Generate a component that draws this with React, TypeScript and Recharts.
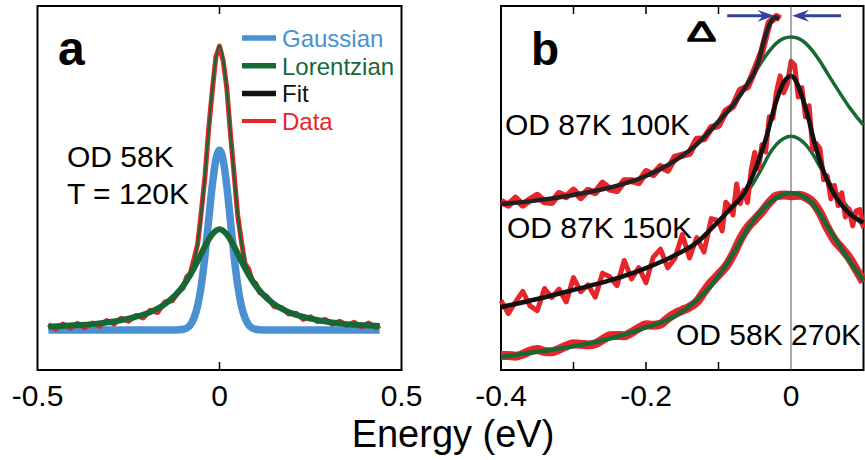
import React from 'react';
import { LineChart, Line, XAxis, YAxis, ReferenceLine, ReferenceArea } from 'recharts';

const FONT = '"Liberation Sans", Arial, Helvetica, sans-serif';
const BLUE = '#4a90d2';
const GREEN = '#166834';
const RED = '#e8252a';
const BLACK = '#111';
const NAVY = '#33439c';

// ---- panel a : OD 58K, T = 120K ----
const aTicks = [-0.5, 0, 0.5];

const aGaussX = [-0.47, -0.2, -0.13, -0.11, -0.1, -0.09, -0.08, -0.07, -0.06, -0.05, -0.04, -0.03, -0.02, -0.01, 0, 0.01, 0.02, 0.03, 0.04, 0.05, 0.06, 0.07, 0.08, 0.09, 0.1, 0.11, 0.13, 0.2, 0.44];
const aGaussY = [11, 11, 11, 11.05, 11.2, 11.5, 12.4, 14.3, 17.7, 23.3, 31.3, 41, 50.6, 57.7, 60.4, 57.7, 50.6, 41, 31.3, 23.3, 17.7, 14.3, 12.4, 11.5, 11.2, 11.05, 11, 11, 11];

const aLorX = [-0.47, -0.4, -0.35, -0.3, -0.25, -0.2, -0.15, -0.12, -0.1, -0.08, -0.06, -0.04, -0.02, 0, 0.02, 0.04, 0.06, 0.08, 0.1, 0.12, 0.15, 0.2, 0.25, 0.3, 0.35, 0.4, 0.44];
const aLorY = [11.9, 12.3, 12.6, 13.2, 14.1, 15.5, 18.1, 20.7, 23.1, 26.2, 29.9, 34.0, 37.3, 38.7, 37.3, 34.0, 29.9, 26.2, 23.1, 20.7, 18.1, 15.5, 14.1, 13.2, 12.6, 12.3, 12.1];

const aFitX = [-0.47, -0.4, -0.35, -0.3, -0.25, -0.2, -0.15, -0.12, -0.1, -0.09, -0.08, -0.07, -0.06, -0.05, -0.04, -0.03, -0.02, -0.01, 0, 0.01, 0.02, 0.03, 0.04, 0.05, 0.06, 0.07, 0.08, 0.09, 0.1, 0.12, 0.15, 0.2, 0.25, 0.3, 0.35, 0.4, 0.44];
const aFitY = [11.9, 12.3, 12.6, 13.2, 14.1, 15.5, 18.1, 20.8, 23.3, 25, 27, 29.8, 35, 43, 53.5, 65.5, 77, 85.5, 89, 85.5, 77, 65.5, 53.5, 43, 35, 29.8, 27, 25, 23.3, 20.8, 18.1, 15.5, 14.1, 13.2, 12.6, 12.3, 12.1];

const aDataX = [-0.47, -0.45, -0.43, -0.41, -0.39, -0.37, -0.35, -0.33, -0.31, -0.29, -0.27, -0.25, -0.23, -0.21, -0.19, -0.17, -0.15, -0.13, -0.11, -0.1, -0.09, -0.08, -0.07, -0.06, -0.05, -0.04, -0.03, -0.02, -0.01, 0, 0.01, 0.02, 0.03, 0.04, 0.05, 0.06, 0.07, 0.08, 0.09, 0.1, 0.11, 0.13, 0.15, 0.17, 0.19, 0.21, 0.23, 0.25, 0.27, 0.29, 0.31, 0.33, 0.35, 0.37, 0.39, 0.41, 0.43, 0.44];
const aDataY = [12.5, 11.2, 12.6, 11.5, 12.8, 11.6, 12.9, 12.0, 13.6, 12.6, 14.2, 13.4, 15.0, 14.3, 16.4, 15.8, 18.7, 19.0, 21.8, 22.5, 25.6, 26.6, 30.5, 34.6, 43.5, 53, 66, 76.5, 86, 89, 85, 77.5, 65, 54, 42.5, 35.5, 29.2, 27.8, 24.4, 23.8, 21.3, 20.2, 17.4, 17.2, 15.4, 15.6, 13.9, 14.6, 13.3, 13.9, 12.6, 13.4, 12.2, 13.1, 11.8, 12.9, 11.6, 12.3];

const legendLabels = ['Gaussian', 'Lorentzian', 'Fit', 'Data'];
const legendColors = [BLUE, GREEN, BLACK, RED];

// ---- panel b ----
const bTicks = [-0.4, -0.2, 0];
const bMinorTicks = [-0.3, -0.2, -0.1];

// OD 87K 100K
const b1FitX = [-0.4, -0.35, -0.3, -0.25, -0.2, -0.16, -0.13, -0.1, -0.08, -0.06, -0.05, -0.044, -0.038, -0.032, -0.026, -0.021, -0.017];
const b1FitY = [45.6, 46.6, 48.1, 50.1, 53.3, 57.5, 62.0, 68.3, 72.8, 78.6, 82.0, 85.2, 90.0, 93.8, 96.2, 96.9, 96.3];
const b1GreenX = [-0.07, -0.06, -0.05, -0.04, -0.03, -0.02, -0.01, 0, 0.01, 0.02, 0.03, 0.04, 0.05, 0.06, 0.07, 0.08, 0.09, 0.1];
const b1GreenY = [75.3, 78.4, 81.6, 84.8, 87.6, 89.8, 91.1, 91.5, 91.1, 89.8, 87.6, 84.8, 81.6, 78.4, 75.3, 72.3, 69.7, 67.3];
const b1DataX = [-0.4, -0.39, -0.38, -0.37, -0.36, -0.35, -0.34, -0.33, -0.32, -0.31, -0.3, -0.29, -0.28, -0.27, -0.26, -0.25, -0.24, -0.23, -0.22, -0.21, -0.2, -0.19, -0.18, -0.17, -0.16, -0.15, -0.14, -0.13, -0.12, -0.11, -0.1, -0.09, -0.08, -0.07, -0.06, -0.05, -0.04, -0.03, -0.02, -0.015];
const b1DataY = [46.3, 45.3, 47.2, 45.3, 46.8, 48.0, 46.2, 46.0, 48.5, 47.6, 49.4, 47.4, 49.4, 48.7, 51.3, 49.7, 49.3, 52.0, 52.0, 51.5, 54.5, 53.7, 55.9, 54.9, 58.5, 59.0, 59.5, 63.4, 63.5, 66.6, 67.2, 71.1, 72.5, 76.9, 77.8, 82.5, 87.6, 95.5, 97.1, 96.5];

// OD 87K 150K
const b2FitX = [-0.4, -0.35, -0.3, -0.25, -0.2, -0.16, -0.13, -0.11, -0.085, -0.062, -0.048, -0.034, -0.021, -0.01, -0.004, 0, 0.004, 0.01, 0.021, 0.034, 0.048, 0.062, 0.08, 0.1];
const b2FitY = [17.3, 19.5, 22.0, 24.6, 28.0, 31.5, 35.0, 38.8, 44.0, 49.5, 55.8, 64.0, 73.4, 79.0, 80.5, 80.8, 80.3, 78.0, 71.4, 61.3, 53.0, 47.5, 43.1, 40.5];
const b2GreenX = [-0.06, -0.05, -0.04, -0.03, -0.02, -0.01, 0, 0.01, 0.02, 0.03, 0.04, 0.05, 0.06, 0.07, 0.08, 0.09, 0.1];
const b2GreenY = [49.0, 52.0, 55.5, 59.3, 62.0, 63.6, 64.2, 63.6, 62.0, 59.3, 55.8, 52.5, 49.5, 46.8, 44.3, 41.8, 39.5];
const b2DataX = [-0.4, -0.39, -0.38, -0.37, -0.36, -0.35, -0.34, -0.33, -0.32, -0.31, -0.3, -0.29, -0.28, -0.27, -0.26, -0.25, -0.24, -0.23, -0.22, -0.21, -0.2, -0.19, -0.18, -0.17, -0.16, -0.15, -0.14, -0.13, -0.12, -0.11, -0.1, -0.095, -0.09, -0.085, -0.08, -0.075, -0.07, -0.065, -0.06, -0.055, -0.05, -0.045, -0.04, -0.035, -0.03, -0.025, -0.02, -0.015, -0.01, -0.005, 0, 0.005, 0.01, 0.015, 0.02, 0.025, 0.03, 0.035, 0.04, 0.045, 0.05, 0.055, 0.06, 0.065, 0.07, 0.075, 0.08, 0.085, 0.09, 0.095, 0.1];
const b2DataY = [19.1, 15.5, 18.7, 21.6, 17.6, 16.3, 22.4, 19.9, 22.2, 18.7, 25.4, 21.5, 23.4, 20.0, 26.6, 25.6, 23.2, 30.1, 25.0, 28.1, 24.0, 31.0, 33.2, 28.1, 30.7, 37.2, 30.8, 36.4, 32.4, 41.6, 41.0, 38.2, 46.1, 45.0, 42.6, 51.1, 45.7, 49.4, 46.0, 54.9, 59.8, 55.2, 61.9, 59.9, 69.6, 69.1, 76.4, 80.8, 76.2, 78.6, 84.8, 83.8, 75.0, 77.6, 69.5, 72.6, 60.5, 62.2, 60.8, 52.3, 53.3, 47.0, 50.7, 45.2, 48.7, 42.0, 44.3, 39.6, 43.7, 44.1, 38.9];

// OD 58K 270K
const b3FitX = [-0.4, -0.35, -0.3, -0.25, -0.2, -0.16, -0.13, -0.11, -0.085, -0.058, -0.03, -0.015, 0, 0.015, 0.029, 0.056, 0.08, 0.1];
const b3FitY = [3.6, 5.0, 6.5, 8.6, 11.7, 14.8, 19.2, 23.3, 30.2, 39.3, 45.9, 47.9, 48.6, 47.9, 45.9, 37.6, 30.2, 24.5];
const b3DataX = [-0.4, -0.39, -0.38, -0.37, -0.36, -0.35, -0.34, -0.33, -0.32, -0.31, -0.3, -0.29, -0.28, -0.27, -0.26, -0.25, -0.24, -0.23, -0.22, -0.21, -0.2, -0.19, -0.18, -0.17, -0.16, -0.15, -0.14, -0.13, -0.12, -0.11, -0.1, -0.09, -0.08, -0.07, -0.06, -0.05, -0.04, -0.03, -0.02, -0.01, 0, 0.01, 0.02, 0.03, 0.04, 0.05, 0.06, 0.07, 0.08, 0.09, 0.1];
const b3DataY = [4.0, 4.0, 3.8, 4.3, 5.2, 5.6, 5.1, 5.0, 5.7, 6.6, 7.2, 7.1, 6.9, 7.2, 8.3, 9.4, 9.5, 9.4, 10.3, 11.5, 12.4, 12.3, 12.6, 14.2, 15.5, 16.4, 17.3, 18.7, 21.5, 24.1, 26.2, 28.4, 31.7, 35.9, 39.1, 41.3, 43.5, 46.0, 47.8, 48.1, 47.9, 48.0, 47.5, 46.1, 43.2, 39.1, 35.7, 33.4, 30.9, 27.6, 24.2];

const pts = (xs: number[], ys: number[]) => xs.map((x, i) => ({ x, y: ys[i] }));

const Arrow = (p: any) => {
  const { x1, y1, x2, y2 } = p;
  const d = Math.sign(x2 - x1);
  return (
    <g>
      <line x1={x1} y1={y1} x2={x2 - d * 10} y2={y2} stroke={NAVY} strokeWidth={3} />
      <polygon
        points={`${x2},${y2} ${x2 - d * 17},${y2 - 6} ${x2 - d * 11},${y2} ${x2 - d * 17},${y2 + 6}`}
        fill={NAVY}
      />
    </g>
  );
};

const tickStyle = { fontSize: 30, fill: '#000', fontFamily: FONT };

const line = (key: string, data: any[], color: string, width: number, type: any = 'monotone') => (
  <Line
    key={key}
    data={data}
    dataKey="y"
    type={type}
    stroke={color}
    strokeWidth={width}
    dot={false}
    activeDot={false}
    isAnimationActive={false}
    strokeLinejoin="round"
  />
);

export default function App() {
  return (
    <div style={{ position: 'absolute', left: 0, top: 0, width: 865, height: 460, background: '#fff', fontFamily: FONT }}>
      <div style={{ position: 'absolute', left: 0, top: 0 }}>
        <LineChart width={440} height={460} margin={{ top: 6, right: 38.5, left: 37.5, bottom: 50 }}>
          <XAxis type="number" dataKey="x" domain={[-0.5, 0.5]} ticks={aTicks} interval={0}
            axisLine={false} tickLine={false} tickSize={0} tickMargin={15} height={40} tick={tickStyle} />
          <YAxis type="number" domain={[0, 100]} hide />
          <ReferenceArea x1={-0.5} x2={0.5} y1={0} y2={100} fill="none" stroke="#000" strokeWidth={2} />
          <ReferenceLine segment={[{ x: 0, y: 0 }, { x: 0, y: 2.2 }]} stroke="#000" strokeWidth={1.5} />
          <ReferenceLine segment={[{ x: 0, y: 100 }, { x: 0, y: 97.8 }]} stroke="#000" strokeWidth={1.5} />
          {line('gauss', pts(aGaussX, aGaussY), BLUE, 7.5)}
          {line('data', pts(aDataX, aDataY), RED, 5, 'linear')}
          {line('lor', pts(aLorX, aLorY), GREEN, 6)}
          {line('fit', pts(aFitX, aFitY), GREEN, 2.5)}
        </LineChart>
      </div>

      <div style={{ position: 'absolute', left: 440, top: 0 }}>
        <LineChart width={425} height={460} margin={{ top: 6, right: 1.5, left: 61, bottom: 50 }}>
          <XAxis type="number" dataKey="x" domain={[-0.4, 0.1]} ticks={bTicks} interval={0}
            axisLine={false} tickLine={false} tickSize={0} tickMargin={15} height={40} tick={tickStyle} />
          <YAxis type="number" domain={[0, 100]} hide />
          <ReferenceArea x1={-0.4} x2={0.1} y1={0} y2={100} fill="none" stroke="#000" strokeWidth={2} />
          {bMinorTicks.map((t) => (
            <ReferenceLine key={'bt' + t} segment={[{ x: t, y: 0 }, { x: t, y: 2.2 }]} stroke="#000" strokeWidth={1.5} />
          ))}
          {bMinorTicks.map((t) => (
            <ReferenceLine key={'tt' + t} segment={[{ x: t, y: 100 }, { x: t, y: 97.8 }]} stroke="#000" strokeWidth={1.5} />
          ))}
          {line('d3', pts(b3DataX, b3DataY), RED, 9)}
          {line('f3', pts(b3FitX, b3FitY), GREEN, 4.5)}
          {line('g2', pts(b2GreenX, b2GreenY), GREEN, 3.5)}
          {line('d2', pts(b2DataX, b2DataY), RED, 5, 'linear')}
          {line('f2', pts(b2FitX, b2FitY), BLACK, 4.5)}
          {line('g1', pts(b1GreenX, b1GreenY), GREEN, 3.5)}
          {line('d1', pts(b1DataX, b1DataY), RED, 7, 'linear')}
          {line('f1', pts(b1FitX, b1FitY), '#222', 4.5)}
          <ReferenceLine x={0} stroke="#555" strokeWidth={1} />
          <ReferenceLine segment={[{ x: -0.088, y: 97.3 }, { x: -0.023, y: 97.3 }]} shape={Arrow} />
          <ReferenceLine segment={[{ x: 0.069, y: 97.3 }, { x: 0.0015, y: 97.3 }]} shape={Arrow} />
        </LineChart>
      </div>

      {/* annotations */}
      <svg width={865} height={460} style={{ position: 'absolute', left: 0, top: 0, pointerEvents: 'none' }} fontFamily={FONT}>
        <text x={58} y={65} fontSize={48} fontWeight="bold">a</text>
        <text x={531} y={65} fontSize={46} fontWeight="bold">b</text>
        <text x={67} y={167} fontSize={30}>OD 58K</text>
        <text x={67} y={204} fontSize={30}>T = 120K</text>
        {legendLabels.map((lab, i) => (
          <g key={lab}>
            <line x1={242} x2={276} y1={38 + 27.7 * i} y2={38 + 27.7 * i} stroke={legendColors[i]} strokeWidth={i === 3 ? 4 : 5.5} />
            <text x={282} y={47 + 27.7 * i} fontSize={24} fill={legendColors[i]}>{lab}</text>
          </g>
        ))}
        <text x={505} y={135} fontSize={30}>OD 87K 100K</text>
        <text x={507} y={238} fontSize={30}>OD 87K 150K</text>
        <text x={676} y={345} fontSize={30}>OD 58K 270K</text>
        <text x={687} y={41} fontSize={28} textLength={29} lengthAdjust="spacingAndGlyphs" stroke="#000" strokeWidth={1.3}>Δ</text>
        <text x={453} y={447} fontSize={38} textAnchor="middle">Energy (eV)</text>
      </svg>
    </div>
  );
}
